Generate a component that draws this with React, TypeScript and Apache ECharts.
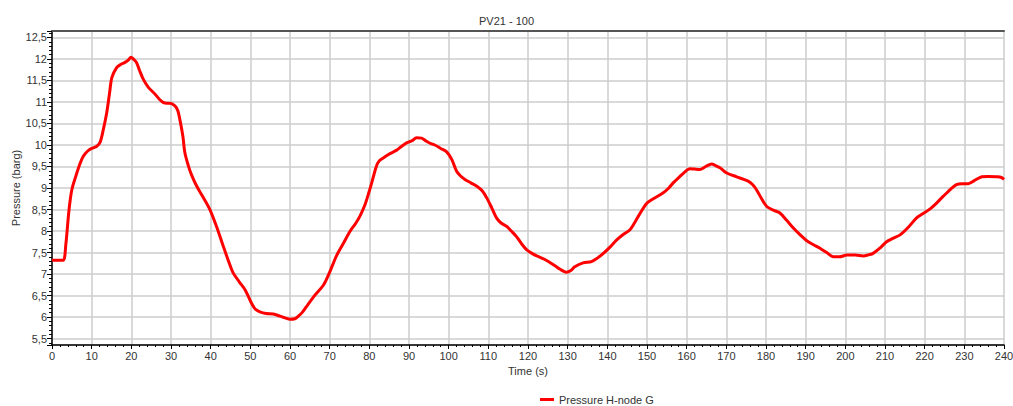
import React, { useEffect, useRef } from "react";
import * as echarts from "echarts";

// Time (s) and pressure (barg) samples for H-node G
const times: number[] = [
  0, 1, 2, 2.9, 3.5, 4.3, 5, 6, 7, 7.9, 9, 10, 11.3, 12.1, 12.8, 13.8, 14.5, 15.1, 16.3, 17.3,
  18.4, 19.3, 19.9, 20.5, 21.3, 22, 23, 24.3, 26, 27, 28, 29, 29.7, 31, 31.7, 32.3, 33, 33.5,
  34.4, 35.2, 36.5, 38, 39.8, 41.5, 43.2, 44.5, 45.7, 47.2, 48.7, 50.3, 51.3, 52.4, 54, 55.8,
  57.5, 58.8, 60, 61.2, 62.1, 63.2, 64.2, 66.3, 68.4, 69.7, 70.7, 71.8, 73.5, 75.1, 76.5, 77.6,
  78.9, 79.9, 80.6, 81.8, 82.5, 83.5, 85.2, 86.9, 88, 89.4, 90.8, 91.9, 93.2, 94.2, 95.3, 96.5,
  98, 99.5, 100.8, 102, 103, 104.1, 105.6, 107.1, 108.5, 109.6, 110.8, 112.1, 113.3, 114.6,
  115.8, 117.1, 118.4, 119.7, 121, 122.2, 124, 125.5, 127, 128.1, 129.7, 130.8, 131.8, 133.9,
  136, 137.5, 139, 140.6, 142.3, 144, 145.7, 146.8, 147.8, 149.9, 151.6, 154.1, 155.5, 156.6,
  158.3, 160, 160.8, 162, 163.3, 164.8, 166.3, 167.3, 168.4, 170.1, 172.6, 175.5, 176.6, 177.6,
  178.9, 180.2, 182, 183.5, 185.2, 186.9, 188.5, 190.2, 192, 193.6, 195.3, 197, 198.5, 200.4,
  202.5, 204.5, 206, 207, 208.7, 210.4, 212, 213.8, 216, 217.9, 219.5, 221.3, 223, 224.7, 226.5,
  228, 229.5, 231, 232.5, 234.4, 236, 238.2, 239.2, 240,
];

const pressure: number[] = [
  7.32, 7.32, 7.32, 7.32, 7.7, 8.5, 8.96, 9.27, 9.55, 9.74, 9.86, 9.92, 9.97, 10.06, 10.3, 10.75,
  11.2, 11.57, 11.8, 11.87, 11.92, 11.98, 12.04, 12.0, 11.92, 11.75, 11.53, 11.34, 11.18, 11.07,
  10.99, 10.97, 10.97, 10.91, 10.8, 10.56, 10.2, 9.82, 9.51, 9.3, 9.04, 8.8, 8.5, 8.1, 7.64, 7.3,
  7.02, 6.82, 6.63, 6.32, 6.18, 6.12, 6.08, 6.07, 6.02, 5.98, 5.95, 5.96, 6.02, 6.12, 6.25, 6.51,
  6.74, 6.98, 7.2, 7.44, 7.72, 7.99, 8.17, 8.34, 8.61, 8.9, 9.12, 9.51, 9.63, 9.7, 9.8, 9.88,
  9.96, 10.05, 10.1, 10.17, 10.16, 10.1, 10.04, 10.0, 9.92, 9.84, 9.66, 9.39, 9.28, 9.2, 9.12,
  9.04, 8.93, 8.77, 8.55, 8.3, 8.18, 8.11, 8.0, 7.87, 7.7, 7.56, 7.48, 7.42, 7.35, 7.27, 7.18,
  7.11, 7.04, 7.08, 7.17, 7.26, 7.29, 7.37, 7.48, 7.62, 7.79, 7.92, 8.03, 8.18, 8.34, 8.64, 8.75,
  8.89, 9.0, 9.12, 9.27, 9.41, 9.45, 9.44, 9.43, 9.5, 9.56, 9.52, 9.47, 9.35, 9.26, 9.16, 9.08,
  8.96, 8.75, 8.57, 8.48, 8.42, 8.25, 8.07, 7.92, 7.78, 7.68, 7.6, 7.5, 7.4, 7.4, 7.44, 7.44,
  7.42, 7.45, 7.48, 7.6, 7.75, 7.83, 7.91, 8.1, 8.3, 8.4, 8.51, 8.65, 8.81, 8.97, 9.08, 9.1, 9.1,
  9.17, 9.26, 9.27, 9.26, 9.25, 9.2,
];

const seriesName = "Pressure H-node G";
const chartTitle = "PV21 - 100";
const yMin = 5.35;
const yMax = 12.65;

const FONT = "'Liberation Sans', Arial, sans-serif";
const TEXT = "#333333";

export default function App() {
  const ref = useRef<HTMLDivElement>(null);

  useEffect(() => {
    if (!ref.current) return;
    const chart = echarts.init(ref.current, undefined, { renderer: "svg" });

    const pts = times.map((t, i) => [t, pressure[i]]);
    const fmtY = (v: number) => {
      const r = Math.round(v * 2) / 2;
      if (Math.abs(r - v) > 1e-6) return "";
      return String(r).replace(".", ",");
    };

    chart.setOption({
      animation: false,
      textStyle: { fontFamily: FONT },
      title: {
        text: chartTitle,
        left: "center",
        top: 10,
        textStyle: { fontSize: 11, fontWeight: "normal", color: TEXT, fontFamily: FONT },
      },
      legend: {
        left: 540,
        top: 394,
        padding: 0,
        icon: "rect",
        itemWidth: 14,
        itemHeight: 3,
        itemGap: 4,
        textStyle: { fontSize: 11, color: TEXT, fontFamily: FONT },
        data: [seriesName],
      },
      grid: { left: 52, right: 9, top: 31, bottom: 61, outerBoundsMode: "none" },
      xAxis: [
        {
          type: "value",
          min: 0,
          max: 240,
          interval: 10,
          name: "Time (s)",
          nameLocation: "middle",
          nameGap: 18,
          nameTextStyle: { fontSize: 11, color: TEXT, fontFamily: FONT },
          axisLine: { show: true, onZero: false, lineStyle: { color: "#000", width: 1.5 } },
          axisTick: { show: true, length: 4, lineStyle: { color: "#000" } },
          minorTick: { show: true, splitNumber: 5, length: 2, lineStyle: { color: "#000" } },
          axisLabel: { fontSize: 11, color: TEXT, margin: 5, fontFamily: FONT },
          splitLine: { show: true, lineStyle: { color: "#cccccc", width: 1.5 } },
        },
        {
          type: "value",
          position: "top",
          min: 0,
          max: 240,
          axisLine: { show: true, lineStyle: { color: "#555", width: 2 } },
          axisTick: { show: false },
          axisLabel: { show: false },
          splitLine: { show: false },
        },
      ],
      yAxis: [
        {
          type: "value",
          min: yMin,
          max: yMax,
          splitNumber: 14,
          name: "Pressure (barg)",
          nameLocation: "middle",
          nameGap: 31,
          nameMoveOverlap: false,
          nameTextStyle: { fontSize: 11, color: TEXT, fontFamily: FONT },
          axisLine: { show: true, lineStyle: { color: "#000", width: 1.5 } },
          axisTick: { show: true, length: 5, lineStyle: { color: "#000" } },
          axisLabel: { fontSize: 11, color: TEXT, margin: 5, fontFamily: FONT, formatter: fmtY },
          splitLine: { show: true, lineStyle: { color: "#cccccc", width: 1.5 } },
        },
        {
          // fine 0.1 ticks along the pressure axis
          type: "value",
          position: "left",
          offset: 0,
          min: yMin,
          max: yMax,
          splitNumber: 73,
          axisLine: { show: false },
          axisTick: { show: true, length: 3, lineStyle: { color: "#000" } },
          axisLabel: { show: false },
          splitLine: { show: false },
        },
      ],
      series: [
        {
          name: seriesName,
          type: "line",
          xAxisIndex: 0,
          yAxisIndex: 0,
          data: pts,
          showSymbol: false,
          smooth: 0.3,
          lineStyle: { color: "#ff0000", width: 3 },
          itemStyle: { color: "#ff0000" },
        },
      ],
    });

    return () => chart.dispose();
  }, []);

  return (
    <div
      ref={ref}
      style={{ position: "fixed", left: 0, top: 0, width: 1013, height: 406, background: "#fff" }}
    />
  );
}
